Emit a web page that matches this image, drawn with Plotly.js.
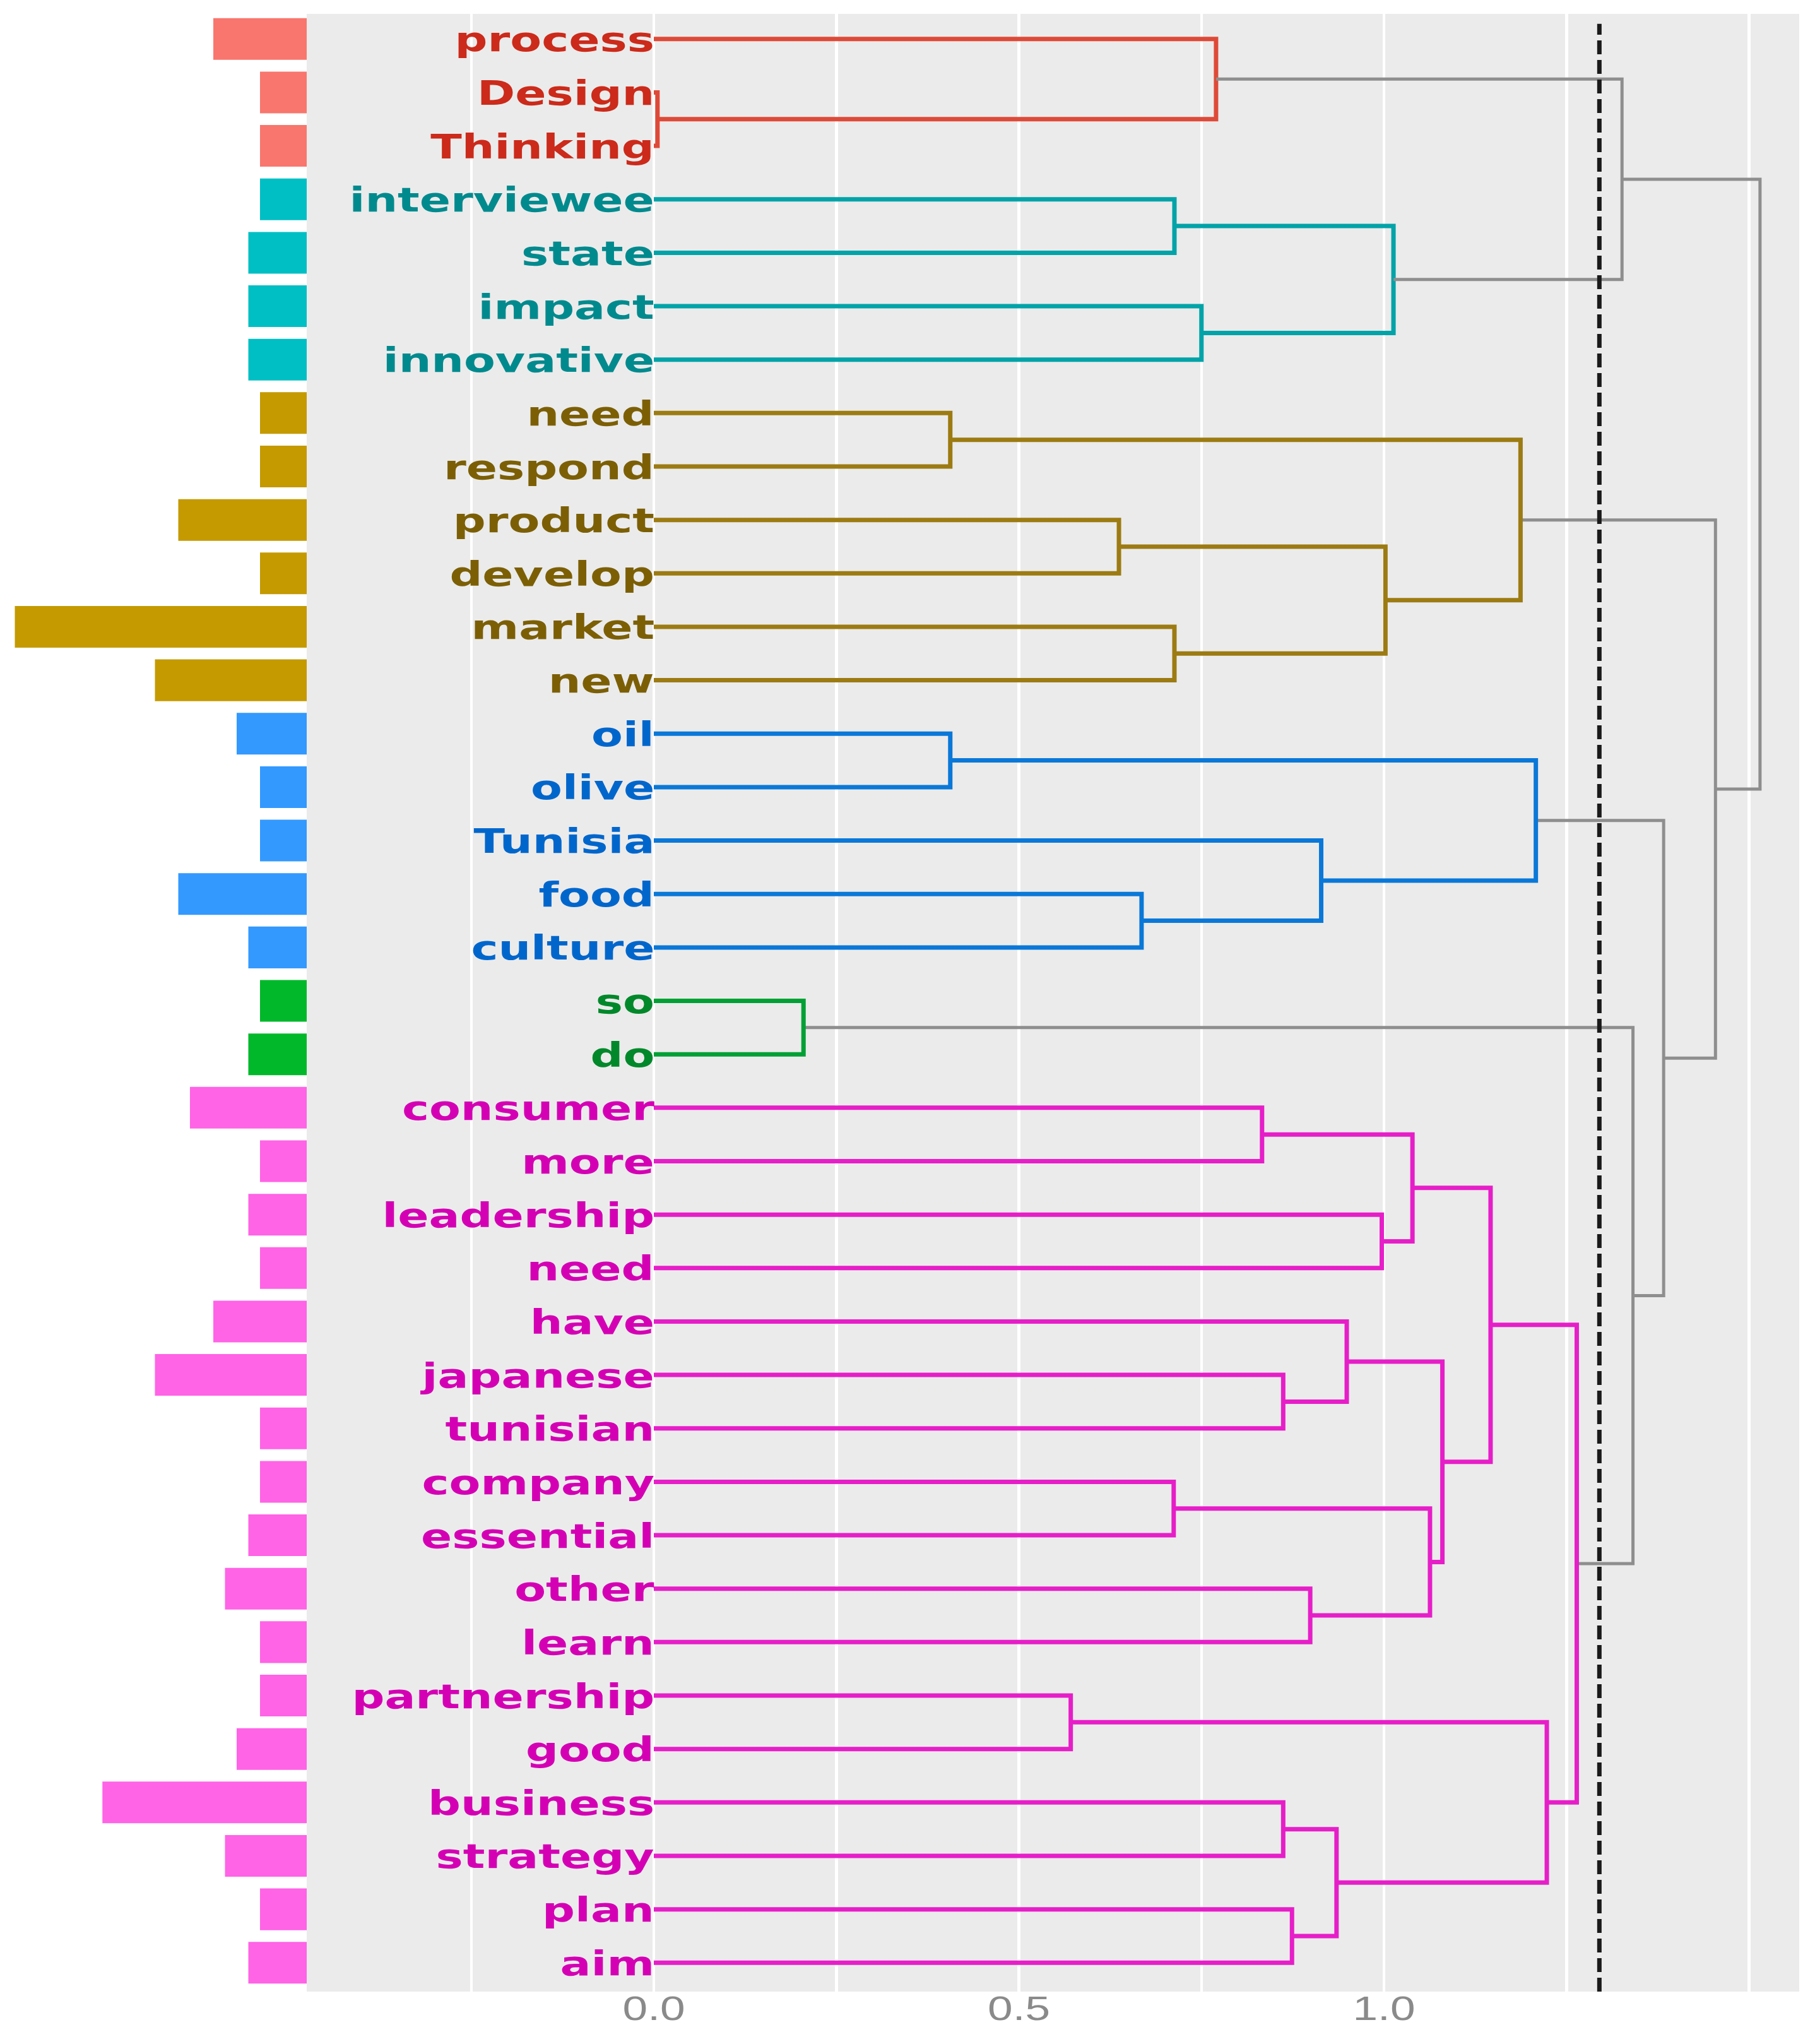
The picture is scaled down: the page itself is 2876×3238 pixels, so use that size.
<!DOCTYPE html>
<html><head><meta charset="utf-8">
<script src="https://cdn.plot.ly/plotly-3.0.1.min.js"></script>
<style>html,body{margin:0;padding:0;background:#fff;}</style>
</head><body><div id="chart" style="width:2876px;height:3238px;"></div>
<script>
// ---------------- data ----------------
const labels = ["process","Design","Thinking","interviewee","state","impact","innovative",
  "need","respond","product","develop","market","new",
  "oil","olive","Tunisia","food","culture",
  "so","do",
  "consumer","more","leadership","need","have","japanese","tunisian","company","essential",
  "other","learn","partnership","good","business","strategy","plan","aim"];
const clusters = ["red","red","red","cyan","cyan","cyan","cyan",
  "gold","gold","gold","gold","gold","gold",
  "blue","blue","blue","blue","blue",
  "green","green",
  "magenta","magenta","magenta","magenta","magenta","magenta","magenta","magenta","magenta",
  "magenta","magenta","magenta","magenta","magenta","magenta","magenta","magenta"];
const frequencies = [8,4,4,4,5,5,5,
  4,4,11,4,25,13,
  6,4,4,11,5,
  4,5,
  10,4,5,4,8,13,4,4,5,
  7,4,4,6,17.5,7,4,5];
// hclust-style merges: negative = leaf (-(index+1)), positive = earlier merge (1-based)
const mergeLeft   = [-2,-1,-4,-6, 3, 2,-8,-10,-12, 8, 7,-14,-17,-16,12,-19,-21,-23,17,-26,-25,-28,-30,22,21,19,-32,-34,-36,28,27,26,16,15,11, 6];
const mergeRight  = [-3, 1,-5,-7, 4, 5,-9,-11,-13, 9,10,-15,-18, 13,14,-20,-22,-24,18,-27, 20,-29,-31,23,24,25,-33,-35,-37,29,30,31,32,33,34,35];
const mergeHeight = [0.005,0.770,0.713,0.750,1.013,1.326,0.406,0.637,0.713,1.002,1.187,
  0.406,0.668,0.914,1.208,0.205,0.833,0.997,1.039,0.862,0.949,0.712,0.899,1.063,1.080,1.146,
  0.571,0.862,0.874,0.935,1.223,1.264,1.341,1.383,1.454,1.515];
const cutHeight = 1.295;
const xTickValues = [-0.25,0,0.25,0.5,0.75,1,1.25,1.5];
const xTickLabels = ["","0.0","","0.5","","1.0","",""];

// ---------------- styles ----------------
const palette = {
  red:     {bar:"#F8766D", line:"#DE4A38", text:"#CC2A1A"},
  cyan:    {bar:"#00BFC4", line:"#00A3A8", text:"#008A8E"},
  gold:    {bar:"#C49A00", line:"#9C7B12", text:"#7C5F05"},
  blue:    {bar:"#3399FF", line:"#0A78D8", text:"#0066CC"},
  green:   {bar:"#00B82A", line:"#00A035", text:"#00882A"},
  magenta: {bar:"#FF63E6", line:"#E61EC8", text:"#D400B4"},
  grey:    {line:"#8E8E8E"}
};
const labelStretch = 1.37;
const tickStretch = 1.32;

// ---------------- dendrogram geometry ----------------
const rows = labels.map((_, i) => i + 1);
const nodeY = [], nodeH = [], nodeC = [];
function info(ref) {
  if (ref < 0) { const i = -ref - 1; return {y: rows[i], h: 0, c: clusters[i]}; }
  const k = ref - 1; return {y: nodeY[k], h: nodeH[k], c: nodeC[k]};
}
const segs = {};
mergeLeft.forEach((l, k) => {
  const a = info(l), b = info(mergeRight[k]), h = mergeHeight[k];
  const c = (a.c && a.c === b.c) ? a.c : null;
  nodeY[k] = (a.y + b.y) / 2; nodeH[k] = h; nodeC[k] = c;
  const key = c || "grey";
  if (!segs[key]) segs[key] = {x: [], y: []};
  segs[key].x.push(a.h, h, h, b.h, null);
  segs[key].y.push(a.y, a.y, b.y, b.y, null);
});

const traces = [];
traces.push({
  type: "bar", orientation: "h", x: frequencies, y: rows, xaxis: "x2", yaxis: "y",
  width: 0.78, marker: {color: clusters.map(c => palette[c].bar), line: {width: 0}},
  hoverinfo: "skip"
});
Object.keys(segs).forEach(key => {
  traces.push({
    type: "scatter", mode: "lines", x: segs[key].x, y: segs[key].y, xaxis: "x", yaxis: "y",
    line: {color: palette[key].line, width: key === "grey" ? 5 : 7, shape: "linear"},
    connectgaps: false, hoverinfo: "skip"
  });
});

const annotations = labels.map((lab, i) => ({
  x: 0, y: rows[i], xref: "x", yref: "y", xanchor: "right", yanchor: "middle",
  text: lab, showarrow: false, xshift: 3, yshift: -1,
  font: {family: "DejaVu Sans", size: 53, weight: "bold", color: palette[clusters[i]].text}
}));

const panelLeft = 486 / 2851;
const layout = {
  width: 2876, height: 3238,
  margin: {l: 0, r: 25, t: 22, b: 83, pad: 0},
  paper_bgcolor: "#ffffff", plot_bgcolor: "#ffffff",
  showlegend: false,
  xaxis: {domain: [panelLeft, 1], range: [-0.4754, 1.5687], tickvals: xTickValues, ticktext: xTickLabels,
    showgrid: true, gridcolor: "#ffffff", gridwidth: 4.5, zeroline: false, showline: false, ticks: "",
    tickfont: {family: "Liberation Sans", size: 54, color: "#8A8A8A"}, ticklabelstandoff: -10, fixedrange: true},
  xaxis2: {domain: [0, panelLeft], range: [26.27, 0], showgrid: false, zeroline: false,
    showticklabels: false, ticks: "", showline: false, anchor: "y"},
  yaxis: {range: [37.54, 0.53], showgrid: false, zeroline: false, showticklabels: false, ticks: "", showline: false},
  shapes: [
    {type: "rect", xref: "x domain", yref: "y domain", x0: 0, x1: 1, y0: 0, y1: 1,
      fillcolor: "#EBEBEB", line: {width: 0}, layer: "below"},
    {type: "line", xref: "x", yref: "y domain", x0: cutHeight, x1: cutHeight, y0: 0, y1: 0.995,
      line: {color: "#1A1A1A", width: 7, dash: "22px,9px"}, layer: "above"}
  ],
  annotations: annotations
};

function stretchText(el, factor, mode) {
  const bb = el.getBBox();
  const ax = mode === "right" ? bb.x + bb.width : bb.x + bb.width / 2;
  const prev = el.getAttribute("transform") || "";
  el.setAttribute("transform", prev + " translate(" + ax + ",0) scale(" + factor + ",1) translate(" + (-ax) + ",0)");
}
Plotly.newPlot("chart", traces, layout, {staticPlot: true, displayModeBar: false}).then(gd => {
  gd.querySelectorAll("g.annotation text.annotation-text").forEach(t => stretchText(t, labelStretch, "right"));
  gd.querySelectorAll("g.xtick text").forEach(t => stretchText(t, tickStretch, "center"));
});
</script></body></html>
